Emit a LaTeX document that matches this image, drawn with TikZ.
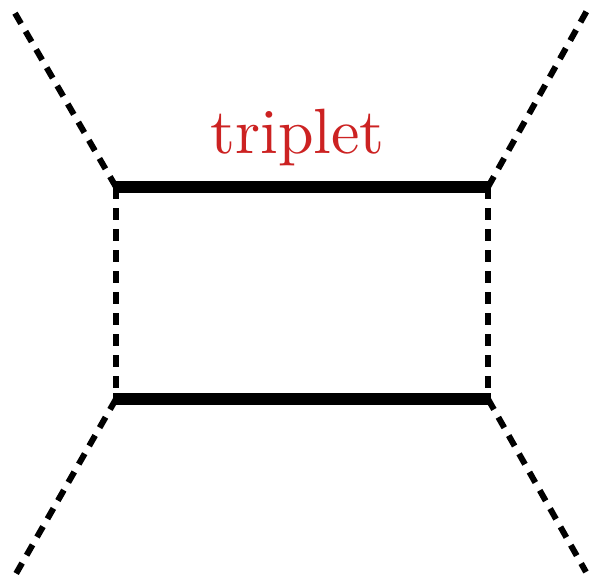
\documentclass[tikz,border=0pt]{standalone}
\usepackage{fontspec}
\newfontfamily\lmten{lmroman10-regular}[Extension=.otf]
\definecolor{tripred}{RGB}{204,34,34}
\begin{document}
\begin{tikzpicture}[x=1pt,y=1pt,
  prop/.style={line width=12pt},
  scal/.style={line width=6pt,dash pattern=on 12pt off 9pt},
  lbl/.style={text=tripred,font=\lmten\fontsize{64}{70}\selectfont,anchor=base,inner sep=0pt}]
\useasboundingbox (0,0) rectangle (592,-582);
\coordinate (tl) at (116,-187);
\coordinate (tr) at (488,-187);
\coordinate (bl) at (116,-399);
\coordinate (br) at (488,-399);
\coordinate (etl) at (12,-8);
\coordinate (etr) at (589,-7);
\coordinate (ebl) at (13,-579);
\coordinate (ebr) at (586,-572);
\draw[scal] (tl) -- (bl);
\draw[scal] (tr) -- (br);
\draw[prop] ([xshift=-3pt]tl) -- ([xshift=3pt]tr);
\draw[prop] ([xshift=-3pt]bl) -- ([xshift=3pt]br);
\draw[scal] (tl) -- (etl);
\draw[scal] (tr) -- (etr);
\draw[scal] (bl) -- (ebl);
\draw[scal] (br) -- (ebr);
\node[lbl] (t) at (297.5,-153) {triplet};
\end{tikzpicture}
\end{document}
